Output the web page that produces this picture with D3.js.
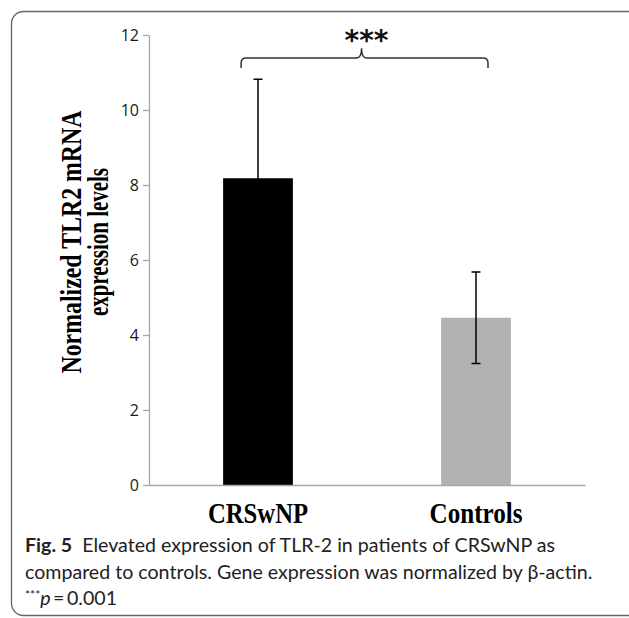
<!DOCTYPE html>
<html>
<head>
<meta charset="utf-8">
<script src="https://d3js.org/d3.v7.min.js"></script>
<style>
  body { margin: 0; background: #fff; }
  svg { display: block; }
  .ytick text { font-family: "Open Sans", sans-serif; font-size: 16px; fill: #1a1a1a; }
  .xlab text { font-family: "Liberation Serif", serif; font-weight: bold; font-size: 29px; fill: #000; }
</style>
</head>
<body>
<div id="chart"></div>
<script>
// values
var groups = ["CRSwNP", "Controls"];
var means = [8.18, 4.46];
var sds = [2.64, 1.22];
var barColors = ["#000000", "#b2b2b2"];
var yTicks = [0, 2, 4, 6, 8, 10, 12];
var yLabelLines = ["Normalized TLR2 mRNA", "expression levels"];
var sigMark = "***";
var captionLines = [
  ["Fig. 5", "  Elevated expression of TLR-2 in patients of CRSwNP as"],
  ["", "compared to controls. Gene expression was normalized by \u03b2-actin."]
];

var W = 629, H = 618;
var svg = d3.select("#chart").append("svg")
  .attr("width", W)
  .attr("height", H);

// frame of the figure panel
svg.append("rect")
  .attr("x", 11.5).attr("y", 11.5)
  .attr("width", 640).attr("height", 604)
  .attr("rx", 12).attr("ry", 12)
  .attr("fill", "none")
  .attr("stroke", "#666")
  .attr("stroke-width", 1.3);

var y = d3.scaleLinear().domain([0, 12]).range([485, 35]);
var x = d3.scaleBand().domain(groups).range([149, 585])
  .paddingInner(0.68).paddingOuter(0.34);

// y axis
var yAxis = svg.append("g")
  .attr("class", "ytick")
  .attr("transform", "translate(149,0)")
  .call(d3.axisLeft(y).tickValues(yTicks).tickSize(6).tickSizeOuter(0).tickPadding(4));
yAxis.selectAll("line, path").attr("stroke", "#a6a6a6").attr("stroke-width", 1.3);

// bars
svg.selectAll("rect.bar").data(groups).enter().append("rect")
  .attr("class", "bar")
  .attr("x", function(d) { return x(d); })
  .attr("y", function(d, i) { return y(means[i]); })
  .attr("width", x.bandwidth())
  .attr("height", function(d, i) { return y(0) - y(means[i]); })
  .attr("fill", function(d, i) { return barColors[i]; });

// error bars
var eb = svg.selectAll("g.err").data(groups).enter().append("g").attr("class", "err");
eb.append("line")
  .attr("x1", function(d) { return x(d) + x.bandwidth() / 2; })
  .attr("x2", function(d) { return x(d) + x.bandwidth() / 2; })
  .attr("y1", function(d, i) { return y(means[i] - sds[i]); })
  .attr("y2", function(d, i) { return y(means[i] + sds[i]); });
[-1, 1].forEach(function(s) {
  eb.append("line")
    .attr("x1", function(d) { return x(d) + x.bandwidth() / 2 - 4.5; })
    .attr("x2", function(d) { return x(d) + x.bandwidth() / 2 + 4.5; })
    .attr("y1", function(d, i) { return y(means[i] + s * sds[i]); })
    .attr("y2", function(d, i) { return y(means[i] + s * sds[i]); });
});
eb.selectAll("line").attr("stroke", "#000").attr("stroke-width", 1.5);

// x axis
var xLabelWidths = [100, 93];
var xAxis = svg.append("g")
  .attr("class", "xlab")
  .attr("transform", "translate(0," + y(0) + ")")
  .call(d3.axisBottom(x).tickSize(0).tickPadding(18));
xAxis.select("path").attr("stroke", "#a6a6a6").attr("stroke-width", 1.3);
xAxis.selectAll(".tick text")
  .attr("dy", null)
  .attr("y", 38)
  .attr("textLength", function(d, i) { return xLabelWidths[i]; })
  .attr("lengthAdjust", "spacingAndGlyphs");

// significance bracket
var bx0 = x(groups[0]) + 18, bx1 = x(groups[1]) + x.bandwidth() / 2 + 12;
var bmid = (bx0 + bx1) / 2 - 3;
var yTop = y(11.39), yEnd = y(11.12), yPeak = y(11.65), r = 5;
var p = d3.path();
p.moveTo(bx0, yEnd);
p.lineTo(bx0, yTop + r);
p.quadraticCurveTo(bx0, yTop, bx0 + r, yTop);
p.lineTo(bmid - r, yTop);
p.quadraticCurveTo(bmid, yTop, bmid, yPeak);
p.quadraticCurveTo(bmid, yTop, bmid + r, yTop);
p.lineTo(bx1 - r, yTop);
p.quadraticCurveTo(bx1, yTop, bx1, yTop + r);
p.lineTo(bx1, yEnd);
svg.append("path")
  .attr("d", p.toString())
  .attr("fill", "none")
  .attr("stroke", "#333")
  .attr("stroke-width", 1.5);

svg.append("text")
  .attr("x", bmid + 5)
  .attr("y", 50)
  .attr("text-anchor", "middle")
  .style("font-family", "DejaVu Sans, sans-serif")
  .style("font-weight", "bold")
  .style("font-size", "28px")
  .attr("fill", "#111")
  .text(sigMark);

// y label
var yLabelWidths = [263, 148];
var yl = svg.append("text")
  .attr("transform", "rotate(-90)")
  .attr("text-anchor", "middle")
  .style("font-family", "Liberation Serif, serif")
  .style("font-weight", "bold")
  .style("font-size", "29px")
  .attr("fill", "#000");
yLabelLines.forEach(function(t, i) {
  yl.append("tspan")
    .attr("x", -242).attr("y", 81 + i * 27)
    .attr("textLength", yLabelWidths[i])
    .attr("lengthAdjust", "spacingAndGlyphs")
    .text(t);
});

// caption
var cap = svg.append("g")
  .style("font-family", "Lato, sans-serif")
  .style("font-size", "19.6px")
  .attr("fill", "#222");
captionLines.forEach(function(line, i) {
  var t = cap.append("text").attr("x", 25).attr("y", 552 + i * 26.5).attr("xml:space", "preserve");
  if (line[0]) t.append("tspan").style("font-weight", "bold").text(line[0]);
  t.append("tspan").text(line[1]);
});
var last = cap.append("text").attr("x", 25).attr("y", 605);
last.append("tspan").attr("dy", -6).style("font-size", "12px").text("***");
last.append("tspan").attr("dy", 6).style("font-style", "italic").text("p");
last.append("tspan").text("\u2009=\u20090.001");
</script>
</body>
</html>
